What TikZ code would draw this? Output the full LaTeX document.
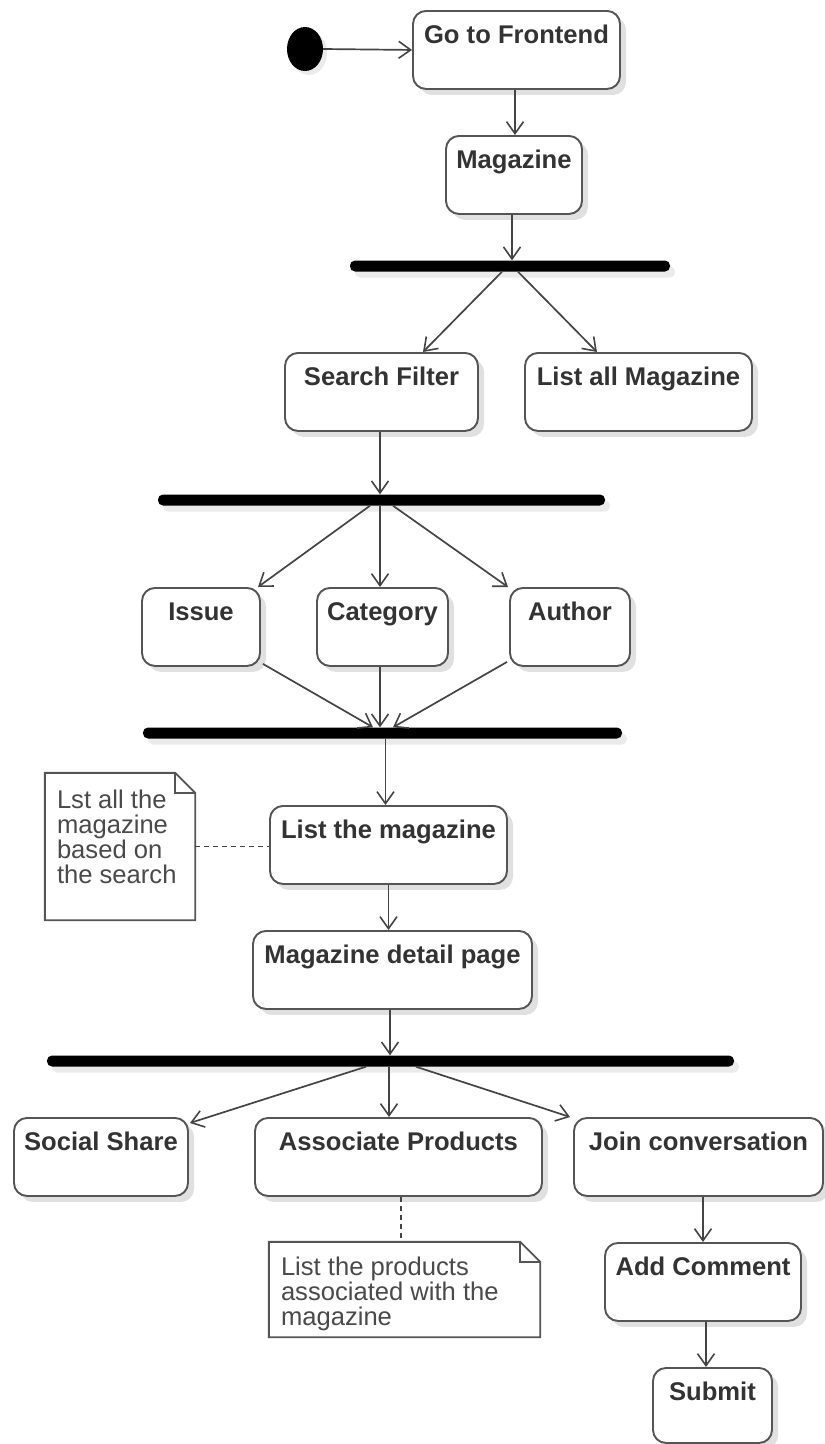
\documentclass[tikz,border=0pt]{standalone}
\usepackage{fontspec}
\setmainfont{Liberation Sans}
\usetikzlibrary{arrows.meta,shadows,shapes.geometric}
\definecolor{edge}{HTML}{555555}
\definecolor{ink}{HTML}{333333}
\definecolor{notetext}{HTML}{4A4A4A}
\definecolor{flow}{HTML}{444444}
\tikzset{
  act/.style={draw=edge, line width=1.9pt, fill=white, rounded corners=13pt,
    anchor=north, inner sep=0pt, minimum height=78pt,
    text height=33pt, text depth=45pt, text=ink,
    font=\fontsize{25.6}{25}\selectfont\bfseries,
    drop shadow={shadow xshift=6pt, shadow yshift=-6pt, fill=black, opacity=0.12}},
  syncbar/.style={fill=black, rounded corners=5pt, inner sep=0pt, minimum height=11pt,
    drop shadow={shadow xshift=5pt, shadow yshift=-6pt, fill=black, opacity=0.08}},
  startnode/.style={ellipse, fill=black, inner sep=0pt, minimum width=36pt, minimum height=44pt,
    drop shadow={shadow xshift=4pt, shadow yshift=-4pt, fill=black, opacity=0.08}},
  notearea/.style={inner sep=0pt},
  noteline/.style={draw=edge, line width=1.9pt, fill=white},
  notelabel/.style={anchor=north west, inner sep=0pt, align=left, text=notetext,
    font=\fontsize{25.6}{25}\selectfont},
  flowarrow/.style={draw=flow, line width=1.7pt, -{Straight Barb[length=12pt,width=17pt,line width=1.6pt]}},
  anchorline/.style={draw=flow, line width=1.8pt, dash pattern=on 5pt off 4pt},
}
\begin{document}
\begin{tikzpicture}[x=1pt,y=-1pt]
\useasboundingbox (0,0) rectangle (825,1444);

% start and first actions
\node[startnode] (init) at (305,49) {};
\node[act, minimum width=207pt] (go) at (516.5,10) {Go to Frontend};
\node[act, minimum width=136pt] (mag) at (514,135) {Magazine};

% synchronisation bars
\node[syncbar, minimum width=320pt] (bar1) at (510,266) {};
\node[syncbar, minimum width=447pt] (bar2) at (381.5,500) {};
\node[syncbar, minimum width=479pt] (bar3) at (382.5,733) {};
\node[syncbar, minimum width=687pt] (bar4) at (390.5,1061) {};

% search branch
\node[act, minimum width=193pt] (search) at (381.5,352) {Search Filter};
\node[act, minimum width=227pt] (listall) at (638.5,352) {List all Magazine};
\node[act, minimum width=118pt] (issue) at (201,587) {Issue};
\node[act, minimum width=131pt] (cat) at (382.5,587) {Category};
\node[act, minimum width=120pt] (author) at (570,587) {Author};

% results
\node[act, minimum width=237pt] (listmag) at (388.5,805) {List the magazine};
\node[act, minimum width=279pt] (detail) at (392.5,930) {Magazine detail page};

% detail page actions
\node[act, minimum width=174pt] (social) at (101,1117) {Social Share};
\node[act, minimum width=287pt] (assoc) at (398.5,1117) {Associate Products};
\node[act, minimum width=249pt] (join) at (698.5,1117) {Join conversation};
\node[act, minimum width=196pt] (addc) at (703,1242) {Add Comment};
\node[act, minimum width=119pt, minimum height=75pt, text depth=42pt] (submit) at (712.5,1367) {Submit};

% notes with folded corner
\node[notearea, minimum width=150pt, minimum height=147pt] (note1) at (120,846.5) {};
\draw[noteline] (note1.north west) -- ([xshift=-20pt]note1.north east)
  -- ([yshift=-20pt]note1.north east) -- (note1.south east) -- (note1.south west) -- cycle;
\draw[draw=edge, line width=1.9pt] ([xshift=-20pt]note1.north east) -- ++(0,20) -- ([yshift=-20pt]note1.north east);
\node[notelabel] (note1text) at ([xshift=12pt,yshift=-17pt]note1.north west)
  {Lst all the\\magazine\\based on\\the search};

\node[notearea, minimum width=271pt, minimum height=95pt] (note2) at (404.5,1289.5) {};
\draw[noteline] (note2.north west) -- ([xshift=-20pt]note2.north east)
  -- ([yshift=-20pt]note2.north east) -- (note2.south east) -- (note2.south west) -- cycle;
\draw[draw=edge, line width=1.9pt] ([xshift=-20pt]note2.north east) -- ++(0,20) -- ([yshift=-20pt]note2.north east);
\node[notelabel] (note2text) at ([xshift=12pt,yshift=-15pt]note2.north west)
  {List the products\\associated with the\\magazine};

% control flow
\draw[flowarrow] (init.east) -- (go.west);
\draw[flowarrow] ([xshift=-1.5pt]go.south) -- ([xshift=-1.5pt]go.south |- mag.north);
\draw[flowarrow] ([xshift=-2pt]mag.south) -- ([xshift=-2pt]mag.south |- bar1.north);
\draw[flowarrow] ([xshift=-8pt]bar1.south) -- ([xshift=41.5pt]search.north);
\draw[flowarrow] ([xshift=8pt]bar1.south) -- ([xshift=-41.5pt]listall.north);
\draw[flowarrow] ([xshift=-1.5pt]search.south) -- ([xshift=-1.5pt]search.south |- bar2.north);
\draw[flowarrow] ([xshift=-11.5pt]bar2.south) -- ([xshift=57pt]issue.north);
\draw[flowarrow] ([xshift=-2.5pt]cat.north |- bar2.south) -- ([xshift=-2.5pt]cat.north);
\draw[flowarrow] ([xshift=11.5pt]bar2.south) -- ([xshift=-62pt]author.north);
\draw[flowarrow] ([xshift=2pt,yshift=3pt]issue.south east) -- ([xshift=-9.5pt]bar3.north);
\draw[flowarrow] ([xshift=-2.5pt]cat.south) -- ([xshift=-2.5pt]cat.south |- bar3.north);
\draw[flowarrow] ([xshift=-2pt,yshift=5pt]author.south west) -- ([xshift=10.5pt]bar3.north);
\draw[flowarrow] ([xshift=-3pt]listmag.north |- bar3.south) -- ([xshift=-3pt]listmag.north);
\draw[flowarrow] (listmag.south) -- (listmag.south |- detail.north);
\draw[flowarrow] ([xshift=-2.5pt]detail.south) -- ([xshift=-2.5pt]detail.south |- bar4.north);
\draw[flowarrow] ([xshift=-24.5pt]bar4.south) -- ([xshift=1pt,yshift=-6pt]social.north east);
\draw[flowarrow] ([xshift=-1.5pt]bar4.south) -- ([xshift=-1.5pt]bar4.south |- assoc.north);
\draw[flowarrow] ([xshift=25.5pt]bar4.south) -- ([xshift=-3pt]join.north west);
\draw[flowarrow] (addc.north |- join.south) -- (addc.north);
\draw[flowarrow] ([xshift=3pt]addc.south) -- ([xshift=3pt]addc.south |- submit.north);

% note anchors
\draw[anchorline] (note1.east) -- (note1.east -| listmag.west);
\draw[anchorline] ([xshift=2.5pt]assoc.south) -- ([xshift=2.5pt]assoc.south |- note2.north);
\end{tikzpicture}
\end{document}
